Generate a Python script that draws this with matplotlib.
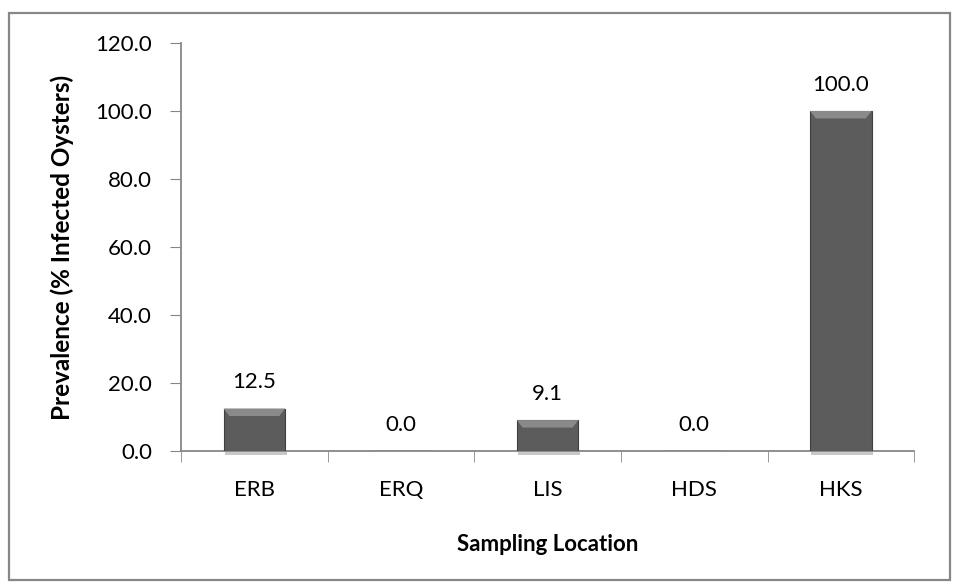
import numpy as np
import matplotlib.pyplot as plt
from matplotlib.patches import Rectangle, Polygon

locations = ["ERB", "ERQ", "LIS", "HDS", "HKS"]
prevalence = [12.5, 0.0, 9.1, 0.0, 100.0]
y_ticks = [0, 20, 40, 60, 80, 100, 120]

plt.rcParams['font.family'] = ['Lato', 'DejaVu Sans']
FS = 16

fig = plt.figure(figsize=(9.58, 5.84), dpi=100)
ax = fig.add_axes([0.189, 0.2277, 0.7652, 0.6987])

# outer chart border
fig.patches.append(Rectangle((0.0094, 0.0068), 0.982, 0.971, transform=fig.transFigure,
                             fill=False, edgecolor='#878787', linewidth=1.6))

x = np.arange(len(locations))
bars = ax.bar(x, prevalence, width=0.42, color='#5c5c5c', edgecolor='#3f3f3f',
              linewidth=0.8, zorder=3)

# bevel highlight on top of each bar
for b in bars:
    h = b.get_height()
    if h <= 0:
        continue
    x0, w = b.get_x(), b.get_width()
    bev = min(2.2, h * 0.3)
    top = Polygon([(x0, h), (x0 + w, h), (x0 + w - 0.04, h - bev), (x0 + 0.04, h - bev)],
                  closed=True, facecolor='#8a8a8a', edgecolor='none', zorder=4)
    ax.add_patch(top)
    # soft shadow under the bar
    ax.add_patch(Rectangle((x0 + 0.01, -1.2), w, 1.2, facecolor='#c8c8c8',
                           edgecolor='none', zorder=1, clip_on=False))

for xi, v in zip(x, prevalence):
    ax.annotate(f"{v:.1f}", (xi, v), xytext=(0, 19), textcoords='offset points',
                ha='center', va='center', fontsize=FS, color='black')

ax.set_xlim(-0.5, 4.5)
ax.set_ylim(0, 120)
ax.set_yticks(y_ticks)
ax.set_yticklabels([f"{t:.1f}" for t in y_ticks], fontsize=FS)
ax.set_xticks(x)
ax.set_xticklabels(locations, fontsize=FS)
ax.set_xticks(np.arange(-0.5, 5, 1), minor=True)
ax.tick_params(axis='x', which='major', length=0, pad=21)
ax.tick_params(axis='x', which='minor', length=8, direction='out', color='#878787')
ax.tick_params(axis='y', length=8, direction='out', color='#878787', pad=13)

for s in ['top', 'right']:
    ax.spines[s].set_visible(False)
for s in ['left', 'bottom']:
    ax.spines[s].set_color('#878787')
    ax.spines[s].set_linewidth(1.3)

ax.set_xlabel("Sampling Location", fontsize=FS, fontweight='bold', labelpad=24)
ax.set_ylabel("Prevalence (% Infected Oysters)", fontsize=17.5, fontweight='bold', labelpad=15)

fig.savefig("out.png", dpi=100)
